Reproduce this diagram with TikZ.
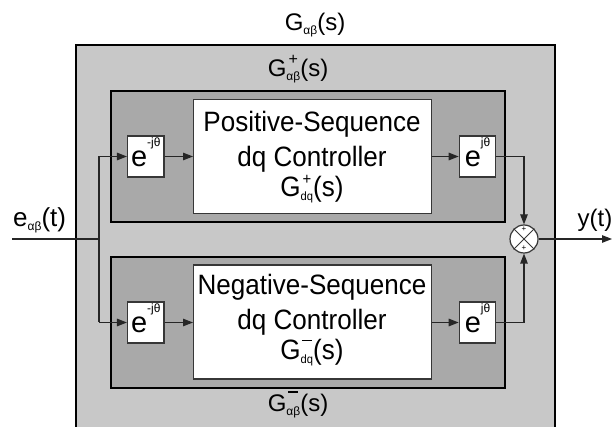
\documentclass[tikz,border=0pt]{standalone}
\usepackage{fontspec}
\setmainfont{Liberation Sans}
\newfontfamily\narrowfont[FakeStretch=0.93]{Liberation Sans}
\usetikzlibrary{arrows.meta}
\definecolor{outerfill}{RGB}{200,200,200}
\definecolor{innerfill}{RGB}{169,169,169}
\definecolor{boxline}{RGB}{55,55,55}
\newcommand\subtxt[1]{\lower4pt\hbox{\fontsize{12}{12}\selectfont #1}}
\newcommand\Gsup[2]{G\setbox0\hbox{\fontsize{12}{12}\selectfont #2}\setbox2\hbox to\wd0{\hss #1\hss}\rlap{\box2}\lower4pt\box0(s)}
\newcommand\plusmark{\raisebox{12pt}{\fontsize{16}{16}\selectfont +}}
\newcommand\minusmark{\raisebox{18.5pt}{\rule{10pt}{1.1pt}}}
\newcommand\rotsup[1]{e\raisebox{20pt}{\fontsize{12}{12}\selectfont #1}}
\begin{document}
\begin{tikzpicture}[x=1pt,y=-1pt,
  outerbox/.style={draw=black, line width=1.8pt, fill=outerfill, anchor=north west, inner sep=0pt},
  innerbox/.style={draw=black, line width=1.6pt, fill=innerfill, anchor=north west, inner sep=0pt},
  ctrlbox/.style={draw=boxline, line width=1.2pt, fill=white, anchor=north west, inner sep=0pt},
  rotbox/.style={draw=boxline, line width=1.1pt, fill=white, minimum width=36.5pt, minimum height=41pt, inner sep=0pt, text height=25pt, text depth=5pt, font=\fontsize{29}{29}\selectfont},
  sig/.style={line width=1.2pt, draw=black!85},
  arr/.style={sig, -{Triangle[length=10pt,width=7.5pt]}},
  lbl/.style={inner sep=0pt, font=\fontsize{24}{24}\selectfont, anchor=base},
  txt/.style={inner sep=0pt, font=\narrowfont\fontsize{28}{28}\selectfont, anchor=base}]
\clip (0,0) rectangle (613,427);
% boxes
\node[outerbox, minimum width=479pt, minimum height=395pt] (outer) at (75,44) {};
\node[innerbox, minimum width=394pt, minimum height=131.5pt] (pinner) at (110,90) {};
\node[innerbox, minimum width=394pt, minimum height=131pt] (ninner) at (110,256) {};
\node[ctrlbox, minimum width=238pt, minimum height=114pt] (pctrl) at (193,99) {};
\node[ctrlbox, minimum width=238pt, minimum height=114pt] (nctrl) at (193,264.5) {};
% texts
\node[lbl] (gab) at (315,31) {G\subtxt{αβ}(s)};
\node[lbl] (gabp) at (298,77) {\Gsup{\plusmark}{αβ}};
\node[lbl] (gabn) at (298,411) {\Gsup{\minusmark}{αβ}};
\node[txt] (pt1) at (312,132) {Positive-Sequence};
\node[txt] (pt2) at (312,167) {dq Controller};
\node[txt] (pt3) at (312,197) {\Gsup{\plusmark}{dq}};
\node[txt] (nt1) at (312,295) {Negative-Sequence};
\node[txt] (nt2) at (312,330) {dq Controller};
\node[txt] (nt3) at (312,360) {\Gsup{\minusmark}{dq}};
\node[lbl, font=\fontsize{26}{26}\selectfont, anchor=base west] (ein) at (13,227) {e\subtxt{αβ}(t)};
\node[lbl, font=\fontsize{24}{24}\selectfont, anchor=base east] (yout) at (612.5,227) {y(t)};
% rotation blocks
\node[rotbox] (pa) at (145.75,156.5) {\rotsup{-jθ}};
\node[rotbox] (pb) at (477.5,156.5) {\rotsup{jθ}};
\node[rotbox] (na) at (145.75,322.5) {\rotsup{-jθ}};
\node[rotbox] (nb) at (477.5,322.5) {\rotsup{jθ}};
% summing junction
\node[circle, draw=boxline, fill=white, line width=1.2pt, minimum size=28pt, inner sep=0pt] (sum) at (524,239) {};
\draw[line width=1pt, draw=boxline] (sum.north east) -- (sum.south west) (sum.north west) -- (sum.south east);
\node[inner sep=0pt, font=\fontsize{8}{8}\selectfont] (plustop) at ([yshift=9.5pt]sum.center) {+};
\node[inner sep=0pt, font=\fontsize{8}{8}\selectfont] (plusbot) at ([yshift=-9.5pt]sum.center) {+};
% connectors
\coordinate (in) at (12,239);
\coordinate (j) at (99,239);
\coordinate (jt) at (99,156.5);
\coordinate (jb) at (99,322.5);
\coordinate (out) at (612,239);
\draw[sig] (in) -- (j);
\draw[sig] (jt) -- (jb);
\draw[arr] (jt) -- (pa.west);
\draw[arr] (jb) -- (na.west);
\draw[arr] (pa.east) -- (pa.east -| pctrl.west);
\draw[arr] (na.east) -- (na.east -| nctrl.west);
\draw[arr] (pb.west -| pctrl.east) -- (pb.west);
\draw[arr] (nb.west -| nctrl.east) -- (nb.west);
\draw[arr] (pb.east) -| (sum.north);
\draw[arr] (nb.east) -| (sum.south);
\draw[arr] (sum.east) -- (out);
\end{tikzpicture}
\end{document}
